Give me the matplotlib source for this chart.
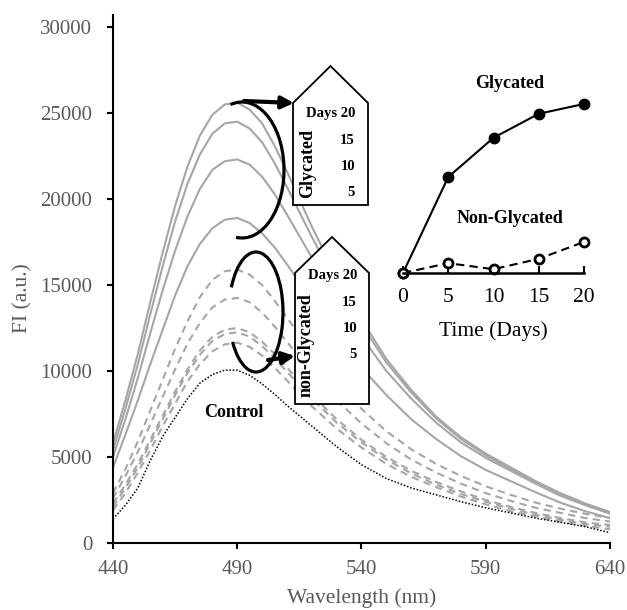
import matplotlib
matplotlib.use('Agg')
import matplotlib.pyplot as plt
from matplotlib.patches import Polygon, Arc

plt.rcParams['font.family'] = ['Liberation Serif', 'DejaVu Serif']

# emission spectra (FI in a.u.)
wavelength = [440, 445, 450, 455, 460, 465, 470, 475, 480, 485, 490, 495, 500, 505,
              510, 520, 530, 540, 550, 560, 570, 580, 590, 600, 610, 620, 630, 640]

gly_20 = [5800, 8300, 11000, 14000, 16900, 19600, 21900, 23700, 24900, 25500, 25600, 25200,
          24400, 23100, 21600, 18400, 15500, 13000, 10700, 8900, 7350, 6150, 5200, 4400,
          3600, 2900, 2300, 1800]
gly_15 = [5400, 7800, 10400, 13300, 16100, 18700, 20900, 22600, 23800, 24400, 24500, 24100,
          23300, 22100, 20700, 17800, 15100, 12700, 10500, 8750, 7250, 6050, 5100, 4300,
          3550, 2850, 2250, 1750]
gly_10 = [5000, 7200, 9600, 12200, 14700, 17000, 19000, 20600, 21700, 22200, 22300, 22000,
          21300, 20300, 19100, 16600, 14200, 12000, 10000, 8400, 7000, 5850, 4950, 4200,
          3450, 2750, 2200, 1700]
gly_5 = [4400, 6300, 8300, 10400, 12400, 14400, 16100, 17400, 18300, 18800, 18900, 18600,
         18000, 17200, 16200, 14100, 12000, 10200, 8600, 7200, 6050, 5050, 4250, 3600,
         2950, 2350, 1850, 1450]

non_20 = [2900, 4300, 5900, 7700, 9500, 11300, 12900, 14300, 15300, 15800, 15900, 15600,
          15000, 14100, 13100, 11100, 9300, 7800, 6500, 5450, 4600, 3900, 3300, 2800,
          2350, 2000, 1700, 1450]
non_15 = [2600, 3900, 5300, 6900, 8500, 10100, 11600, 12800, 13700, 14150, 14250, 14000,
          13400, 12600, 11700, 9900, 8300, 6950, 5800, 4850, 4100, 3450, 2900, 2450,
          2050, 1750, 1450, 1250]
non_10 = [2300, 3400, 4600, 6000, 7400, 8800, 10100, 11200, 12000, 12400, 12500, 12250,
          11700, 11000, 10200, 8600, 7200, 6000, 5000, 4200, 3550, 3000, 2500, 2100,
          1750, 1450, 1200, 1050]
non_5 = [2100, 3200, 4400, 5800, 7200, 8600, 9900, 10950, 11750, 12150, 12250, 12000,
         11450, 10750, 9950, 8400, 7000, 5850, 4850, 4050, 3400, 2850, 2400, 2000,
         1650, 1350, 1100, 950]
non_0 = [1900, 2900, 4100, 5400, 6800, 8100, 9400, 10400, 11150, 11550, 11650, 11400,
         10900, 10200, 9450, 7950, 6650, 5550, 4600, 3850, 3250, 2700, 2250, 1850,
         1550, 1250, 1000, 800]
control = [1400, 2200, 3200, 4800, 6200, 7300, 8400, 9300, 9800, 10050, 10050, 9750,
           9250, 8650, 8000, 6800, 5600, 4550, 3750, 3200, 2800, 2400, 2050, 1750,
           1450, 1200, 950, 600]

# inset: peak FI against incubation time
days = [0, 5, 10, 15, 20]
peak_gly = [10100, 18900, 22500, 24700, 25600]
peak_non = [10100, 11000, 10450, 11400, 12950]

W, H = 627, 610
GRAY_TXT = '#595959'
GRAY_LN = '#a6a6a6'

fig = plt.figure(figsize=(W / 100, H / 100), dpi=100)

# ---- main spectra axes
ax = fig.add_axes([113 / W, 1 - 543 / H, 497 / W, 528 / H])
for y in [gly_20, gly_15, gly_10, gly_5]:
    ax.plot(wavelength, y, color=GRAY_LN, lw=1.5)
for y in [non_20, non_15, non_10, non_5, non_0]:
    ax.plot(wavelength, y, color=GRAY_LN, lw=1.5, ls=(0, (3.5, 2.5)))
ax.plot(wavelength, control, color='black', lw=1.1, ls=(0, (1, 1.2)))

ax.set_xlim(440, 640)
ax.set_ylim(0, 30700)
ax.set_xticks(range(440, 641, 50))
ax.set_yticks(range(0, 30001, 5000))
for s in ['top', 'right']:
    ax.spines[s].set_visible(False)
for s in ['left', 'bottom']:
    ax.spines[s].set_linewidth(1.5)
ax.tick_params(axis='both', direction='out', length=4, width=1.5,
               labelsize=15, labelcolor=GRAY_TXT)
ax.tick_params(axis='x', pad=8)
ax.tick_params(axis='y', pad=11)
ax.set_xlabel('Wavelength (nm)', fontsize=15.5, color=GRAY_TXT, va='center')
ax.xaxis.set_label_coords(0.5, -0.104)
ax.set_ylabel('FI (a.u.)', fontsize=15.5, color=GRAY_TXT)
ax.yaxis.set_label_coords(-0.163, 0.464)
ax.text(488.5, 7600, 'Control', fontsize=13, fontweight='bold', ha='center', va='center')

# ---- inset
ax_in = fig.add_axes([403 / W, 1 - 273 / H, 181 / W, 173.4 / H], zorder=2)
ax_in.patch.set_alpha(0)
ax_in.plot(days, peak_gly, color='black', lw=1.5, marker='o', ms=7.5,
           mfc='black', mec='black', clip_on=False)
ax_in.plot(days, peak_non, color='black', lw=1.5, ls=(0, (4, 2.5)), marker='o', ms=6.5,
           mfc='white', mec='black', mew=2, clip_on=False)
ax_in.set_xlim(0, 20)
ax_in.set_ylim(10100, 26000)
ax_in.set_xticks(days)
ax_in.set_yticks([])
for s in ['top', 'right', 'left']:
    ax_in.spines[s].set_visible(False)
ax_in.spines['bottom'].set_linewidth(1.8)
ax_in.tick_params(axis='x', direction='in', length=5, width=1.5, labelsize=15.5, pad=11)
ax_in.set_xlabel('Time (Days)', fontsize=15.5)
ax_in.xaxis.set_label_coords(0.5, -0.28)
ax_in.text(0.59, 1.095, 'Glycated', transform=ax_in.transAxes, fontsize=13,
           fontweight='bold', ha='center', va='center')
ax_in.text(0.59, 0.315, 'Non-Glycated', transform=ax_in.transAxes, fontsize=13,
           fontweight='bold', ha='center', va='center')

# ---- overlay in pixel coordinates for the labelled boxes and arrows
ov = fig.add_axes([0, 0, 1, 1], zorder=3)
ov.set_xlim(0, W)
ov.set_ylim(H, 0)
ov.axis('off')
ov.patch.set_alpha(0)

box1 = [(293, 205), (293, 103), (330.5, 66), (368, 103), (368, 205)]
box2 = [(295, 404), (295, 273), (332, 237), (369, 273), (369, 404)]
for pts in [box1, box2]:
    ov.add_patch(Polygon(pts, closed=True, fc='white', ec='black', lw=1.3))

for x, y, t in [(355, 113, 'Days 20'), (355, 140, '15'), (355, 166, '10'), (355, 192, '5')]:
    ov.text(x, y, t, fontsize=10.5, fontweight='bold', ha='right', va='center')
for x, y, t in [(357, 275, 'Days 20'), (357, 302, '15'), (357, 328, '10'), (357, 354, '5')]:
    ov.text(x, y, t, fontsize=10.5, fontweight='bold', ha='right', va='center')
ov.text(308, 164, 'Glycated', fontsize=13, fontweight='bold', rotation=90,
        ha='center', va='center')
ov.text(306, 345, 'non-Glycated', fontsize=13, fontweight='bold', rotation=90,
        ha='center', va='center')

ov.add_patch(Arc((242, 170), 84, 136, theta1=-100, theta2=95, color='black', lw=2.3))
ov.annotate('', xy=(294, 103), xytext=(244, 101),
            arrowprops=dict(arrowstyle='-|>', lw=3, color='black', mutation_scale=18,
                            shrinkA=0, shrinkB=0))
ov.add_patch(Arc((256, 312), 54, 120, theta1=-135, theta2=128, color='black', lw=2.3))
ov.annotate('', xy=(295, 356), xytext=(268, 360),
            arrowprops=dict(arrowstyle='-|>', lw=3, color='black', mutation_scale=18,
                            shrinkA=0, shrinkB=0))

fig.savefig('out.png', dpi=100)
